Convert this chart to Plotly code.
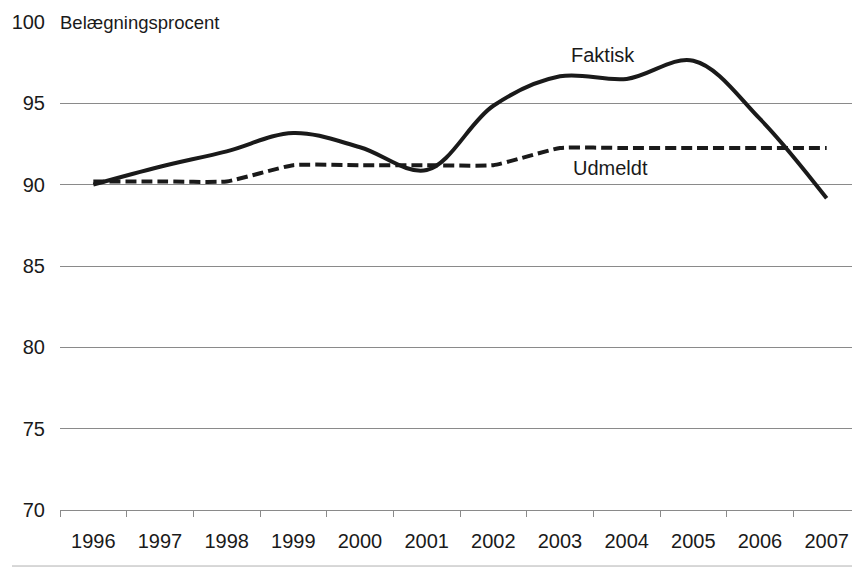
import plotly.graph_objects as go

years = ["1996", "1997", "1998", "1999", "2000", "2001", "2002", "2003", "2004", "2005", "2006", "2007"]
faktisk = [90.0, 91.1, 92.05, 93.18, 92.3, 90.9, 94.85, 96.66, 96.5, 97.62, 94.04, 89.16]
udmeldt = [90.2, 90.2, 90.2, 91.2, 91.2, 91.2, 91.2, 92.25, 92.25, 92.25, 92.25, 92.25]
yticks = [70, 75, 80, 85, 90, 95, 100]

FONT = "Liberation Sans, Arial, Helvetica, sans-serif"
INK = "#1a1a1a"

fig = go.Figure()
fig.add_trace(go.Scatter(
    x=years, y=udmeldt, mode="lines", name="Udmeldt",
    line=dict(color=INK, width=4, dash="11px,5px", shape="spline", smoothing=0.45),
))
fig.add_trace(go.Scatter(
    x=years, y=faktisk, mode="lines", name="Faktisk",
    line=dict(color=INK, width=4, shape="spline", smoothing=1.0),
))

fig.add_annotation(text="Faktisk", xref="paper", yref="y", x=0.679, y=97.97,
                   xanchor="center", yanchor="middle",
                   showarrow=False, font=dict(family=FONT, size=20, color=INK))
fig.add_annotation(text="Udmeldt", xref="paper", yref="y", x=0.6875, y=91.03,
                   xanchor="center", yanchor="middle",
                   showarrow=False, font=dict(family=FONT, size=20, color=INK))
fig.add_annotation(text="Belægningsprocent", xref="paper", yref="y", x=-0.009, y=100,
                   xanchor="left", yanchor="middle", showarrow=False,
                   bgcolor="white", borderpad=6,
                   font=dict(family=FONT, size=18.5, color=INK))

fig.add_shape(type="line", xref="paper", yref="paper", x0=-0.06, x1=1.0,
              y0=-0.1148, y1=-0.1148, line=dict(color="#b0b0b0", width=1))

# page body adds an 8px margin, so the figure is sized to fit the 860x567 window
fig.update_layout(
    width=852, height=559,
    margin=dict(l=52, r=0, t=14, b=57, autoexpand=False),
    paper_bgcolor="white", plot_bgcolor="white",
    showlegend=False,
    font=dict(family=FONT, color=INK),
)
fig.update_xaxes(
    type="category", range=[-0.5, 11.5], automargin=False,
    showgrid=False, showline=True, linecolor="#8a8a8a", linewidth=1.2,
    ticks="outside", tickson="boundaries", ticklen=6, tickcolor="#8a8a8a", tickwidth=1.2,
    tickfont=dict(family=FONT, size=20, color=INK), ticklabelstandoff=13,
    zeroline=False,
)
fig.update_yaxes(
    range=[70, 100], tickvals=yticks, automargin=False,
    showgrid=True, gridcolor="#8a8a8a", gridwidth=1,
    showline=False, zeroline=False, ticks="",
    tickfont=dict(family=FONT, size=20, color=INK), ticklabelstandoff=14,
)

fig.write_html("out.html")
